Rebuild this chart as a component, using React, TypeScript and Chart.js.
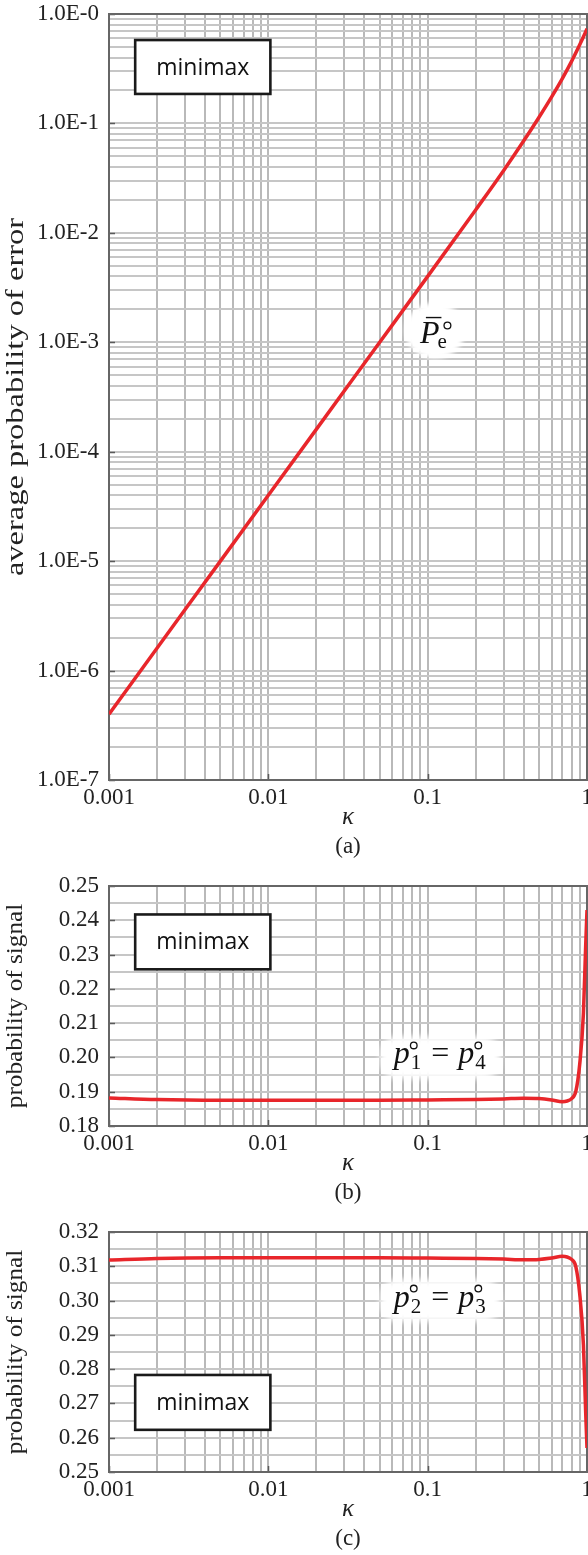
import React, { useEffect, useRef } from 'react';
import { Chart, registerables } from 'chart.js';

Chart.register(...registerables);

// ---------------- data ----------------
const kappaA = [0.001, 0.002, 0.005, 0.01, 0.02, 0.05, 0.1, 0.2, 0.3, 0.4, 0.5, 0.6, 0.7, 0.8, 0.9, 0.95, 1];
const errorA = [4.0e-7, 1.6e-6, 1.0e-5, 4.0e-5, 1.6e-4, 1.0e-3, 4.0e-3, 1.62e-2, 3.72e-2, 6.9e-2, 0.114, 0.175, 0.257, 0.369, 0.523, 0.619, 0.733];

const kappaB = [0.001, 0.002, 0.005, 0.01, 0.02, 0.05, 0.1, 0.2, 0.3, 0.4, 0.5, 0.6, 0.7, 0.75, 0.8, 0.85, 0.9, 0.95, 0.98, 1];
const p1p4 = [0.1882, 0.1877, 0.1875, 0.1875, 0.1875, 0.1875, 0.1876, 0.1877, 0.1879, 0.1881, 0.188, 0.1876, 0.1871, 0.1873, 0.188, 0.19, 0.198, 0.213, 0.232, 0.243];

const kappaC = [0.001, 0.002, 0.005, 0.01, 0.02, 0.05, 0.1, 0.2, 0.3, 0.4, 0.5, 0.6, 0.7, 0.75, 0.8, 0.85, 0.9, 0.95, 0.98, 1];
const p2p3 = [0.3118, 0.3123, 0.3125, 0.3125, 0.3125, 0.3125, 0.3124, 0.3123, 0.3121, 0.3119, 0.312, 0.3124, 0.3129, 0.3127, 0.312, 0.31, 0.302, 0.287, 0.268, 0.257];

const xDecades = [0.001, 0.01, 0.1];
const xEnd = 1;
const yDecadesA = [1e-7, 1e-6, 1e-5, 1e-4, 1e-3, 1e-2, 1e-1];
const yEndA = 1;
const yRangeB = [0.18, 0.25];
const yRangeC = [0.25, 0.32];
const yMinorStep = 0.005;

const titleA = 'average probability of error';
const titleBC = 'probability of signal';
const boxText = 'minimax';
const captions = ['(a)', '(b)', '(c)'];

// annotation anchors (data coordinates)
const boxKappa = [0.00146, 0.0103];
const boxA = [0.578, 0.186];
const boxB = [0.2417, 0.2257];
const boxC = [0.2783, 0.2623];
const labelA = [0.111, 1.28e-3];
const labelB = [0.12, 0.2];
const labelC = [0.12, 0.3];

// ---------------- helpers ----------------
const SERIF = '"Liberation Serif", "Times New Roman", serif';
const SANS = '"Open Sans", "Noto Sans", sans-serif';

function logTicks(decades: number[], end: number) {
  const out: number[] = [];
  for (const d of decades) for (let m = 1; m <= 9; m++) out.push(Number((m * d).toPrecision(6)));
  out.push(end);
  return out;
}
function linTicks(min: number, max: number, step: number) {
  const n = Math.round((max - min) / step);
  return Array.from({ length: n + 1 }, (_, i) => Number((min + i * step).toFixed(4)));
}
const isDecade = (v: number) => Math.abs(Math.log10(v) - Math.round(Math.log10(v))) < 1e-6;
const isHundredth = (v: number) => Math.round(v * 1000) % 10 === 0;

const xTickValues = logTicks(xDecades, xEnd);

function ring(ctx: CanvasRenderingContext2D, x: number, y: number, r: number) {
  ctx.beginPath();
  ctx.lineWidth = 1.3;
  ctx.arc(x, y, r, 0, Math.PI * 2);
  ctx.stroke();
}

function drawPe(ctx: CanvasRenderingContext2D, cx: number, cy: number) {
  ctx.save();
  ctx.filter = 'blur(2px)';
  ctx.fillStyle = '#fff';
  ctx.beginPath();
  ctx.ellipse(cx, cy, 30, 28, 0, 0, Math.PI * 2);
  ctx.fill();
  ctx.restore();
  ctx.save();
  ctx.fillStyle = '#111';
  ctx.strokeStyle = '#111';
  ctx.textAlign = 'left';
  ctx.textBaseline = 'alphabetic';
  ctx.font = `italic 32px ${SERIF}`;
  const wP = ctx.measureText('P').width;
  const x0 = cx - 15;
  const base = cy + 12;
  ctx.fillText('P', x0, base);
  ctx.lineWidth = 1.4;
  ctx.beginPath();
  ctx.moveTo(x0 + 6, base - 25);
  ctx.lineTo(x0 + wP + 2, base - 25);
  ctx.stroke();
  ring(ctx, x0 + wP + 8, base - 17, 3.4);
  ctx.font = `21px ${SERIF}`;
  ctx.fillText('e', x0 + wP - 2, base + 5);
  ctx.restore();
}

function drawPP(ctx: CanvasRenderingContext2D, cx: number, cy: number, a: string, b: string) {
  ctx.save();
  ctx.filter = 'blur(3px)';
  ctx.fillStyle = '#fff';
  ctx.beginPath();
  (ctx as any).roundRect(cx - 60, cy - 21, 120, 42, 17);
  ctx.fill();
  ctx.restore();
  ctx.save();
  ctx.fillStyle = '#111';
  ctx.strokeStyle = '#111';
  ctx.textAlign = 'left';
  ctx.textBaseline = 'alphabetic';
  const base = cy + 6;
  ctx.font = `italic 32px ${SERIF}`;
  const wp = ctx.measureText('p').width;
  ctx.font = `21px ${SERIF}`;
  const ws = ctx.measureText(a).width;
  ctx.font = `32px ${SERIF}`;
  const we = ctx.measureText('=').width;
  const gap = 9;
  const total = 2 * (wp + ws + 2) + 2 * gap + we;
  let x = cx - total / 2;
  const drawOne = (sub: string) => {
    ctx.font = `italic 32px ${SERIF}`;
    ctx.fillText('p', x, base);
    ring(ctx, x + wp + 4, base - 18, 3.3);
    ctx.font = `21px ${SERIF}`;
    ctx.fillText(sub, x + wp + 1, base + 6);
    x += wp + ws + 2;
  };
  drawOne(a);
  x += gap;
  ctx.font = `32px ${SERIF}`;
  ctx.fillText('=', x, base);
  x += we + gap;
  drawOne(b);
  ctx.restore();
}

type PanelCfg = {
  top: number;
  height: number;
  plotTop: number;
  plotBottom: number;
  yType: 'logarithmic' | 'linear';
  yMin: number;
  yMax: number;
  yTicks: number[];
  yMajor: (v: number) => boolean;
  yLabel: (v: number) => string;
  yTitle: string;
  titleSize: number;
  titleStretch: number;
  xs: number[];
  ys: number[];
  boxY: number[];
  label: number[];
  labelKind: 'Pe' | 'p14' | 'p23';
  caption: string;
};

const panels: PanelCfg[] = [
  {
    top: 0,
    height: 870,
    plotTop: 14,
    plotBottom: 780,
    yType: 'logarithmic',
    yMin: yDecadesA[0],
    yMax: yEndA,
    yTicks: logTicks(yDecadesA, yEndA),
    yMajor: isDecade,
    yLabel: (v) => `1.0E-${Math.abs(Math.round(Math.log10(v)))}`,
    yTitle: titleA,
    titleSize: 25,
    titleStretch: 1.3,
    xs: kappaA,
    ys: errorA,
    boxY: boxA,
    label: labelA,
    labelKind: 'Pe',
    caption: captions[0],
  },
  {
    top: 870,
    height: 346,
    plotTop: 16,
    plotBottom: 256,
    yType: 'linear',
    yMin: yRangeB[0],
    yMax: yRangeB[1],
    yTicks: linTicks(yRangeB[0], yRangeB[1], yMinorStep),
    yMajor: isHundredth,
    yLabel: (v) => v.toFixed(2),
    yTitle: titleBC,
    titleSize: 24,
    titleStretch: 1.05,
    xs: kappaB,
    ys: p1p4,
    boxY: boxB,
    label: labelB,
    labelKind: 'p14',
    caption: captions[1],
  },
  {
    top: 1216,
    height: 339,
    plotTop: 16,
    plotBottom: 256,
    yType: 'linear',
    yMin: yRangeC[0],
    yMax: yRangeC[1],
    yTicks: linTicks(yRangeC[0], yRangeC[1], yMinorStep),
    yMajor: isHundredth,
    yLabel: (v) => v.toFixed(2),
    yTitle: titleBC,
    titleSize: 24,
    titleStretch: 1.05,
    xs: kappaC,
    ys: p2p3,
    boxY: boxC,
    label: labelC,
    labelKind: 'p23',
    caption: captions[2],
  },
];

function Panel({ cfg }: { cfg: PanelCfg }) {
  const ref = useRef<HTMLCanvasElement>(null);
  useEffect(() => {
    const canvas = ref.current!;
    const H = cfg.height;
    const decor = {
      id: 'decor',
      beforeDatasetsDraw(chart: any) {
        const { ctx, chartArea: a, scales } = chart;
        ctx.save();
        ctx.strokeStyle = '#5a5a5a';
        ctx.lineWidth = 1.5;
        ctx.beginPath();
        for (const v of cfg.yTicks) {
          if (!cfg.yMajor(v)) continue;
          const py = Math.round(scales.y.getPixelForValue(v)) + 0.5;
          ctx.moveTo(a.left, py);
          ctx.lineTo(a.left + 6, py);
        }
        for (const v of xTickValues) {
          if (!isDecade(v)) continue;
          const px = Math.round(scales.x.getPixelForValue(v)) + 0.5;
          ctx.moveTo(px, a.bottom);
          ctx.lineTo(px, a.bottom - 6);
        }
        ctx.stroke();
        ctx.strokeStyle = '#666';
        ctx.lineWidth = 2;
        ctx.strokeRect(a.left, a.top, a.right - a.left, a.bottom - a.top);
        ctx.restore();
      },
      afterDatasetsDraw(chart: any) {
        const { ctx, chartArea: a, scales } = chart;
        // minimax box
        const bx0 = scales.x.getPixelForValue(boxKappa[0]);
        const bx1 = scales.x.getPixelForValue(boxKappa[1]);
        const by0 = scales.y.getPixelForValue(cfg.boxY[0]);
        const by1 = scales.y.getPixelForValue(cfg.boxY[1]);
        ctx.save();
        ctx.fillStyle = '#fff';
        ctx.fillRect(bx0, by0, bx1 - bx0, by1 - by0);
        ctx.strokeStyle = '#1a1a1a';
        ctx.lineWidth = 2.6;
        ctx.strokeRect(bx0, by0, bx1 - bx0, by1 - by0);
        ctx.fillStyle = '#111';
        ctx.font = `23px ${SANS}`;
        ctx.textAlign = 'center';
        ctx.textBaseline = 'middle';
        ctx.fillText(boxText, (bx0 + bx1) / 2, (by0 + by1) / 2 + 1);
        ctx.restore();
        // math label
        const lx = scales.x.getPixelForValue(cfg.label[0]);
        const ly = scales.y.getPixelForValue(cfg.label[1]);
        if (cfg.labelKind === 'Pe') drawPe(ctx, lx, ly);
        else if (cfg.labelKind === 'p14') drawPP(ctx, lx, ly, '1', '4');
        else drawPP(ctx, lx, ly, '2', '3');
        // y-axis title
        ctx.save();
        ctx.fillStyle = '#222';
        ctx.translate(16, (a.top + a.bottom) / 2);
        ctx.rotate(-Math.PI / 2);
        ctx.scale(cfg.titleStretch, 1);
        ctx.font = `${cfg.titleSize}px ${SERIF}`;
        ctx.textAlign = 'center';
        ctx.textBaseline = 'middle';
        ctx.fillText(cfg.yTitle, 0, 0);
        ctx.restore();
        // captions
        const cx = (a.left + a.right) / 2;
        ctx.save();
        ctx.fillStyle = '#222';
        ctx.textAlign = 'center';
        ctx.textBaseline = 'middle';
        ctx.font = `italic 25px ${SERIF}`;
        ctx.fillText('κ', cx, a.bottom + 37);
        ctx.font = `23px ${SERIF}`;
        ctx.fillText(cfg.caption, cx, a.bottom + 67);
        ctx.restore();
      },
    };
    const chart = new Chart(canvas, {
      type: 'line',
      data: {
        datasets: [
          {
            data: cfg.xs.map((x, i) => ({ x, y: cfg.ys[i] })),
            borderColor: '#e8262b',
            borderWidth: 3.5,
            pointRadius: 0,
            fill: false,
            cubicInterpolationMode: 'monotone',
          },
        ],
      },
      options: {
        animation: false,
        responsive: false,
        maintainAspectRatio: false,
        devicePixelRatio: 1,
        layout: { padding: { top: cfg.plotTop, right: 1, left: 0, bottom: 0 } },
        plugins: { legend: { display: false }, tooltip: { enabled: false } },
        scales: {
          x: {
            type: 'logarithmic',
            min: xDecades[0],
            max: xEnd,
            afterBuildTicks: (s: any) => {
              s.ticks = xTickValues.map((v) => ({ value: v }));
            },
            afterFit: (s: any) => {
              s.height = H - cfg.plotBottom;
              s.paddingLeft = 0;
              s.paddingRight = 0;
            },
            grid: { color: '#b9b9b9', lineWidth: 2, drawTicks: false },
            border: { display: false },
            ticks: {
              autoSkip: false,
              maxRotation: 0,
              minRotation: 0,
              padding: 4,
              color: '#222',
              font: { family: SERIF, size: 23 },
              callback: (v: any) => (isDecade(Number(v)) ? String(Number(v)) : ''),
            },
          },
          y: {
            type: cfg.yType,
            min: cfg.yMin,
            max: cfg.yMax,
            afterBuildTicks: (s: any) => {
              s.ticks = cfg.yTicks.map((v) => ({ value: v }));
            },
            afterFit: (s: any) => {
              s.width = 109;
              s.paddingTop = 0;
              s.paddingBottom = 0;
            },
            grid: { color: '#c6c6c6', lineWidth: 2, drawTicks: false },
            border: { display: false },
            title: { display: false },
            ticks: {
              autoSkip: false,
              padding: 10,
              color: '#222',
              font: { family: SERIF, size: 23 },
              callback: (v: any) => (cfg.yMajor(Number(v)) ? cfg.yLabel(Number(v)) : ''),
            },
          },
        },
      } as any,
      plugins: [decor],
    });
    return () => chart.destroy();
  }, [cfg]);
  return (
    <canvas
      ref={ref}
      width={588}
      height={cfg.height}
      style={{ position: 'absolute', left: 0, top: cfg.top, width: 588, height: cfg.height, display: 'block' }}
    />
  );
}

export default function App() {
  return (
    <div
      style={{
        position: 'absolute',
        left: 0,
        top: 0,
        width: 588,
        height: 1555,
        overflow: 'hidden',
        background: '#fff',
      }}
    >
      {panels.map((p, i) => (
        <Panel key={i} cfg={p} />
      ))}
    </div>
  );
}
